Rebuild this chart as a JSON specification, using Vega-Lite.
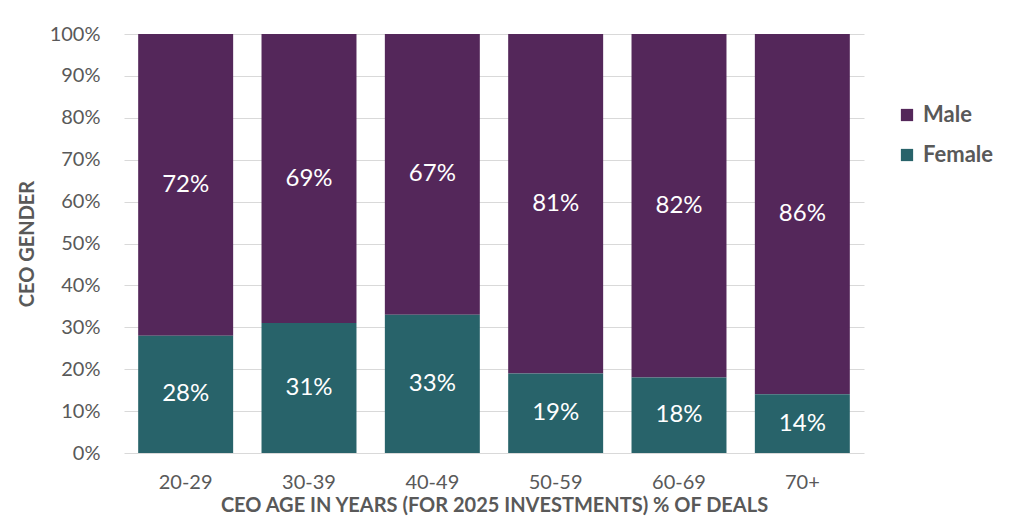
{
  "$schema": "https://vega.github.io/schema/vega-lite/v6.json",
  "width": 740,
  "height": 419,
  "autosize": {"type": "none"},
  "padding": {"left": 124, "top": 34, "right": 160, "bottom": 71},
  "background": "white",
  "config": {
    "view": {"stroke": null},
    "font": "Lato"
  },
  "data": {
    "values": [
      {"age": "20-29", "gender": "Male", "pct": 72},
      {"age": "20-29", "gender": "Female", "pct": 28},
      {"age": "30-39", "gender": "Male", "pct": 69},
      {"age": "30-39", "gender": "Female", "pct": 31},
      {"age": "40-49", "gender": "Male", "pct": 67},
      {"age": "40-49", "gender": "Female", "pct": 33},
      {"age": "50-59", "gender": "Male", "pct": 81},
      {"age": "50-59", "gender": "Female", "pct": 19},
      {"age": "60-69", "gender": "Male", "pct": 82},
      {"age": "60-69", "gender": "Female", "pct": 18},
      {"age": "70+", "gender": "Male", "pct": 86},
      {"age": "70+", "gender": "Female", "pct": 14}
    ]
  },
  "transform": [
    {"stack": "pct", "groupby": ["age"], "sort": [{"field": "gender", "order": "ascending"}], "as": ["y0", "y1"]},
    {"calculate": "(datum.y0 + datum.y1) / 2", "as": "mid"},
    {"calculate": "datum.pct + '%'", "as": "label"}
  ],
  "encoding": {
    "x": {
      "field": "age",
      "type": "nominal",
      "sort": null,
      "scale": {"paddingInner": 0.23, "paddingOuter": 0.115},
      "axis": {
        "title": "CEO AGE IN YEARS (FOR 2025 INVESTMENTS) % OF DEALS",
        "labelAngle": 0,
        "labelFontSize": 20,
        "labelColor": "#595959",
        "labelPadding": 19,
        "ticks": false,
        "domain": false,
        "titleFontSize": 20,
        "titleFontWeight": "bold",
        "titleColor": "#595959",
        "titlePadding": 3
      }
    }
  },
  "layer": [
    {
      "mark": {"type": "bar"},
      "encoding": {
        "y": {
          "field": "y0",
          "type": "quantitative",
          "scale": {"domain": [0, 100]},
          "axis": {
            "title": "CEO GENDER",
            "values": [0, 10, 20, 30, 40, 50, 60, 70, 80, 90, 100],
            "labelExpr": "datum.value + '%'",
            "labelOverlap": false,
            "labelFontSize": 20,
            "labelColor": "#595959",
            "labelPadding": 24,
            "ticks": false,
            "domain": false,
            "gridColor": "#d9d9d9",
            "gridWidth": 1.2,
            "titleFontSize": 20,
            "titleFontWeight": "bold",
            "titleColor": "#595959",
            "titlePadding": 12
          }
        },
        "y2": {"field": "y1"},
        "color": {
          "field": "gender",
          "type": "nominal",
          "scale": {"domain": ["Male", "Female"], "range": ["#54275a", "#28636a"]},
          "legend": {
            "title": null,
            "orient": "none",
            "legendX": 772,
            "legendY": 70,
            "symbolType": "square",
            "symbolSize": 150,
            "symbolStrokeWidth": 0,
            "labelFontSize": 22,
            "labelFontWeight": "bold",
            "labelColor": "#595959",
            "rowPadding": 18,
            "labelOffset": 5
          }
        }
      }
    },
    {
      "mark": {"type": "text", "color": "white", "fontSize": 24, "baseline": "middle"},
      "encoding": {
        "y": {"field": "mid", "type": "quantitative"},
        "text": {"field": "label", "type": "nominal"},
        "detail": {"field": "gender"}
      }
    }
  ]
}
